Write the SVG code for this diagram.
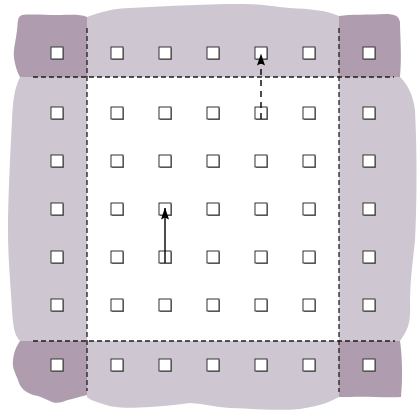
<svg xmlns="http://www.w3.org/2000/svg" xmlns:xlink="http://www.w3.org/1999/xlink" width="417" height="413" viewBox="0 0 417 413">
<style>
.light{fill:#cec6d0}
.dark{fill:#af9daf}
.bound{fill:none;stroke:#1e1e1e;stroke-width:1.3;stroke-dasharray:5 3}
.sh{fill:#777}
.sq{fill:#fff;stroke:#333;stroke-width:1}
.arr{fill:none;stroke:#000;stroke-width:1.4}
</style>
<defs>
<marker id="ah" viewBox="0 0 12 8" refX="11.5" refY="4" markerWidth="12" markerHeight="8" markerUnits="userSpaceOnUse" orient="auto">
<path d="M0,0 L12,4 L0,8 L2,4 Z" fill="#000"/>
</marker>
<g id="box"><rect class="sh" x="-5" y="-5" width="12" height="12"/><rect class="sq" x="-6" y="-6" width="12" height="12"/></g>
</defs>
<g id="regions">
<rect x="87" y="77" width="252" height="264" fill="#fff"/>
<path class="light" d="M87,17 C100,12 115,8 130,8 C170,6 210,4 243,4 C265,4 275,7 290,8 C310,9 325,10 339,16 L339,77 L87,77 Z"/>
<path class="light" d="M20,77 C14,90 13,100 12,120 C10,160 8,200 8,230 C8,260 11,290 12,310 C13,325 14,335 20,341 L87,341 L87,77 Z"/>
<path class="light" d="M339,77 L400,77 C408,85 413,95 415,110 C417,150 417,200 415,240 C413,260 410,280 410,300 C410,315 412,325 400,341 L339,341 Z"/>
<path class="light" d="M87,341 L339,341 L339,397 C330,402 320,406 300,409 C280,411 260,409 230,408 C215,407 205,404 190,403 C180,404 170,406 150,407 C130,408 115,409 100,403 C93,401 89,399 87,397 Z"/>
<path class="dark" d="M87,17 C80,14 70,15 60,15 C45,15 30,14 22,15 C17,17 18,22 17,30 C16,40 13,50 14,58 C15,65 17,72 20,77 L87,77 Z"/>
<path class="dark" d="M339,16 C350,14 370,15 385,14 C395,14 399,16 400,22 C400,35 402,55 400,77 L339,77 Z"/>
<path class="dark" d="M20,341 L87,341 L87,395 C80,397 75,398 68,400 C62,402 58,404 52,402 C45,399 40,396 33,395 C25,392 20,388 18,380 C15,372 12,368 13,360 C14,352 16,347 20,341 Z"/>
<path class="dark" d="M339,341 L400,341 C402,355 403,375 401,397 C385,398 365,396 350,397 C345,397 342,397 339,397 Z"/>
</g>
<g id="boundaries">
<line class="bound" x1="87" y1="28" x2="87" y2="391"/>
<line class="bound" x1="339" y1="28" x2="339" y2="392"/>
<line class="bound" x1="33" y1="77" x2="394" y2="77"/>
<line class="bound" x1="33" y1="341" x2="395" y2="341"/>
</g>
<g id="nodes">
<g id="n0-0"><use xlink:href="#box" x="57" y="53"/></g>
<g id="n0-1"><use xlink:href="#box" x="117" y="53"/></g>
<g id="n0-2"><use xlink:href="#box" x="165" y="53"/></g>
<g id="n0-3"><use xlink:href="#box" x="213" y="53"/></g>
<g id="n0-4"><use xlink:href="#box" x="261" y="53"/></g>
<g id="n0-5"><use xlink:href="#box" x="309" y="53"/></g>
<g id="n0-6"><use xlink:href="#box" x="369" y="53"/></g>
<g id="n1-0"><use xlink:href="#box" x="57" y="113"/></g>
<g id="n1-1"><use xlink:href="#box" x="117" y="113"/></g>
<g id="n1-2"><use xlink:href="#box" x="165" y="113"/></g>
<g id="n1-3"><use xlink:href="#box" x="213" y="113"/></g>
<g id="n1-4"><use xlink:href="#box" x="261" y="113"/></g>
<g id="n1-5"><use xlink:href="#box" x="309" y="113"/></g>
<g id="n1-6"><use xlink:href="#box" x="369" y="113"/></g>
<g id="n2-0"><use xlink:href="#box" x="57" y="161"/></g>
<g id="n2-1"><use xlink:href="#box" x="117" y="161"/></g>
<g id="n2-2"><use xlink:href="#box" x="165" y="161"/></g>
<g id="n2-3"><use xlink:href="#box" x="213" y="161"/></g>
<g id="n2-4"><use xlink:href="#box" x="261" y="161"/></g>
<g id="n2-5"><use xlink:href="#box" x="309" y="161"/></g>
<g id="n2-6"><use xlink:href="#box" x="369" y="161"/></g>
<g id="n3-0"><use xlink:href="#box" x="57" y="209"/></g>
<g id="n3-1"><use xlink:href="#box" x="117" y="209"/></g>
<g id="n3-2"><use xlink:href="#box" x="165" y="209"/></g>
<g id="n3-3"><use xlink:href="#box" x="213" y="209"/></g>
<g id="n3-4"><use xlink:href="#box" x="261" y="209"/></g>
<g id="n3-5"><use xlink:href="#box" x="309" y="209"/></g>
<g id="n3-6"><use xlink:href="#box" x="369" y="209"/></g>
<g id="n4-0"><use xlink:href="#box" x="57" y="257"/></g>
<g id="n4-1"><use xlink:href="#box" x="117" y="257"/></g>
<g id="n4-2"><use xlink:href="#box" x="165" y="257"/></g>
<g id="n4-3"><use xlink:href="#box" x="213" y="257"/></g>
<g id="n4-4"><use xlink:href="#box" x="261" y="257"/></g>
<g id="n4-5"><use xlink:href="#box" x="309" y="257"/></g>
<g id="n4-6"><use xlink:href="#box" x="369" y="257"/></g>
<g id="n5-0"><use xlink:href="#box" x="57" y="305"/></g>
<g id="n5-1"><use xlink:href="#box" x="117" y="305"/></g>
<g id="n5-2"><use xlink:href="#box" x="165" y="305"/></g>
<g id="n5-3"><use xlink:href="#box" x="213" y="305"/></g>
<g id="n5-4"><use xlink:href="#box" x="261" y="305"/></g>
<g id="n5-5"><use xlink:href="#box" x="309" y="305"/></g>
<g id="n5-6"><use xlink:href="#box" x="369" y="305"/></g>
<g id="n6-0"><use xlink:href="#box" x="57" y="365"/></g>
<g id="n6-1"><use xlink:href="#box" x="117" y="365"/></g>
<g id="n6-2"><use xlink:href="#box" x="165" y="365"/></g>
<g id="n6-3"><use xlink:href="#box" x="213" y="365"/></g>
<g id="n6-4"><use xlink:href="#box" x="261" y="365"/></g>
<g id="n6-5"><use xlink:href="#box" x="309" y="365"/></g>
<g id="n6-6"><use xlink:href="#box" x="369" y="365"/></g>
</g>
<g id="connectors">
<line class="arr" x1="165" y1="263" x2="165" y2="208" marker-end="url(#ah)"/>
<line class="arr" x1="261" y1="119" x2="261" y2="54" stroke-dasharray="6 5" marker-end="url(#ah)"/>
</g>
</svg>
